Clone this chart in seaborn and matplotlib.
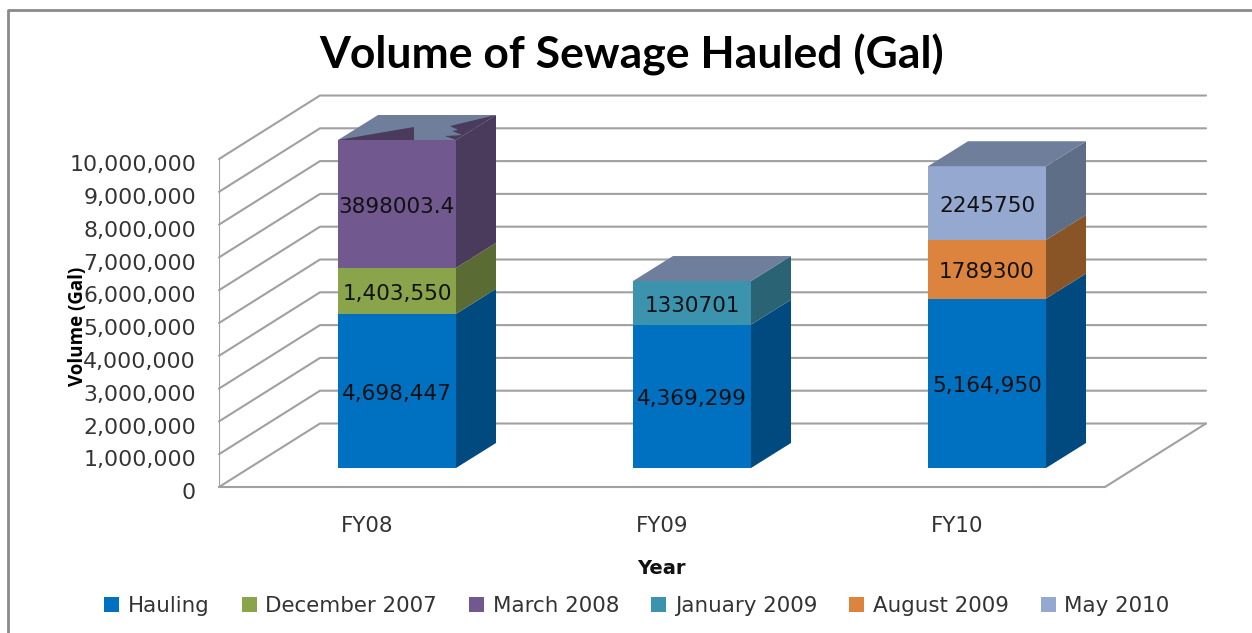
import numpy as np
import matplotlib.pyplot as plt
from matplotlib.transforms import ScaledTranslation
import seaborn as sns

# chart values
years = ["FY08", "FY09", "FY10"]
hauling = [4698447, 4369299, 5164950]
dec_2007 = [1403550, 0, 0]
mar_2008 = [3898003.4, 0, 0]
jan_2009 = [0, 1330701, 0]
aug_2009 = [0, 0, 1789300]
may_2010 = [0, 0, 2245750]

series_names = ["Hauling", "December 2007", "March 2008",
                "January 2009", "August 2009", "May 2010"]
series_values = [hauling, dec_2007, mar_2008, jan_2009, aug_2009, may_2010]
series_labels = [["4,698,447", "4,369,299", "5,164,950"],
                 ["1,403,550", "", ""],
                 ["3898003.4", "", ""],
                 ["", "1330701", ""],
                 ["", "", "1789300"],
                 ["", "", "2245750"]]
front_colors = ["#0070c0", "#8aa44c", "#71588f", "#3b93ad", "#dc843d", "#95a9d0"]
side_colors = ["#004a80", "#5a6b33", "#4a3a5c", "#2a6374", "#8a5526", "#5f6e87"]
top_color = "#6f7f9b"

y_ticks = list(range(0, 11000000, 1000000))
y_ticklabels = [f"{v:,}" for v in y_ticks]

# pseudo 3D setup, everything below is in data units
W, H = 1252, 633
px_x = 295.0  # pixels per category
px_y = 32.8 / 1e6  # pixels per gallon
wall_dx = 101 / px_x
wall_dy = 63.5 / px_y
bar_dx = 40 / px_x
bar_dy = 25 / px_y
bar_width = 118 / px_x
bar_base = 19 / px_y  # bars stand in the middle of the floor
ymax = 10e6 + wall_dy
xmin = (219 - 397) / px_x
xmax = (1206 - 397) / px_x

sns.set_style("white")
fig = plt.figure(figsize=(W / 100, H / 100), dpi=100)
ax = fig.add_axes([219 / W, 1 - 487 / H, (1206 - 219) / W, ymax * px_y / H])
ax.patch.set_alpha(0)

# walls and floor
grid_col = "#a0a0a0"
for v in y_ticks:
    ax.plot([xmin, xmin + wall_dx, xmax], [v, v + wall_dy, v + wall_dy],
            color=grid_col, lw=1.5, zorder=1, clip_on=False)
ax.plot([xmin, xmin], [0, 10e6], color=grid_col, lw=1.5, zorder=1)
floor_right = xmax - wall_dx
ax.plot([xmin, floor_right, xmax], [0, 0, wall_dy], color=grid_col, lw=1.5,
        zorder=1, clip_on=False)

# stacked bars, front faces through seaborn
bottoms = np.full(len(years), bar_base)
for name, vals, front, side, labels in zip(series_names, series_values, front_colors,
                                           side_colors, series_labels):
    vals = np.array(vals, dtype=float)
    sns.barplot(x=years, y=vals, bottom=bottoms, order=years, color=front, saturation=1,
                width=bar_width, linewidth=0, label=name, ax=ax, zorder=3)
    ax.bar_label(ax.containers[-1], labels=labels, label_type="center", padding=-2,
                 fontsize=15.5, color="#111111", zorder=5)
    for i in range(len(years)):
        if vals[i] == 0:
            continue
        r = i + bar_width / 2
        lo = bottoms[i]
        hi = lo + vals[i]
        ax.fill([r, r + bar_dx, r + bar_dx, r],
                [lo, lo + bar_dy, hi + bar_dy, hi], color=side, lw=0, zorder=3)
    bottoms = bottoms + vals

# top faces
for i, top in enumerate(bottoms):
    l = i - bar_width / 2
    r = i + bar_width / 2
    ax.fill([l, r, r + bar_dx, l + bar_dx], [top, top, top + bar_dy, top + bar_dy],
            color=top_color, lw=0, zorder=3)

# rendering glitch on top of the FY08 bar
top = bottoms[0]
l = -bar_width / 2
ax.fill([l, l + 76 / px_x, l + 76 / px_x], [top, top + 13 / px_y, top],
        color=side_colors[2], lw=0, zorder=4)
gx = [118, 158, 112, 120, 114, 124, 107]
gy = [0, 25, 14, 10, 9, 5, 4]
ax.fill([l + a / px_x for a in gx], [top + b / px_y for b in gy],
        color=side_colors[2], lw=0, zorder=4)

ax.set_xlim(xmin, xmax)
ax.set_ylim(0, ymax)
for s in ax.spines.values():
    s.set_visible(False)

ax.set_yticks(y_ticks)
ax.set_yticklabels(y_ticklabels, fontsize=15.8, color="#333333")
ax.set_xticks([i - 30 / px_x for i in range(len(years))])
ax.set_xticklabels(years, fontsize=15.4, color="#333333")
ax.tick_params(axis="both", length=0)
ax.tick_params(axis="y", pad=16.5)
ax.tick_params(axis="x", pad=21)
ax.set_xlabel("")
ax.set_ylabel("")
# tick labels sit a little below their gridline
shift = ScaledTranslation(0, -3 / 72, fig.dpi_scale_trans)
for lab in ax.get_yticklabels():
    lab.set_transform(lab.get_transform() + shift)

fig.text(632 / W, 1 - 55 / H, "Volume of Sewage Hauled (Gal)", fontsize=32, fontweight="bold",
         family="Lato", ha="center", va="center", color="#000000")
fig.text(78 / W, 1 - 326 / H, "Volume (Gal)", fontsize=13.5, rotation=90, fontweight="bold",
         family="Open Sans", ha="center", va="center", color="#000000")
fig.text(661 / W, 1 - 568 / H, "Year", fontsize=14, fontweight="bold",
         ha="center", va="center", color="#111111")

handles, names = ax.get_legend_handles_labels()
leg = ax.get_legend()
if leg is not None:
    leg.remove()
fig.legend(handles, names, ncol=6, frameon=False, fontsize=15.4, loc="center",
           bbox_to_anchor=(637 / W, 1 - 606 / H), handlelength=0.7, handleheight=0.7,
           handletextpad=0.4, columnspacing=1.5, labelcolor="#333333")

# outer frame of the chart object, open to the right and bottom
fig.add_artist(plt.Line2D([8 / W, 8 / W, 1], [0, 1 - 10 / H, 1 - 10 / H],
                          color="#8a8a8a", lw=2))

fig.savefig("out.png", dpi=100)
